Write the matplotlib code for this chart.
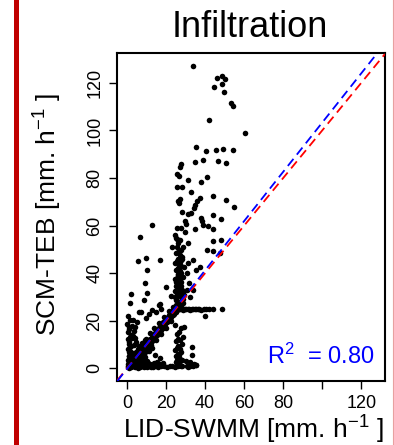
import matplotlib
matplotlib.use("Agg")
import matplotlib.pyplot as plt
from matplotlib.patches import Rectangle
from matplotlib.lines import Line2D

plt.rcParams['font.family'] = ['Liberation Sans', 'DejaVu Sans']
plt.rcParams['mathtext.fontset'] = 'custom'
plt.rcParams['mathtext.rm'] = 'Liberation Sans'
plt.rcParams['mathtext.it'] = 'Liberation Sans:italic'

# --- data (LID-SWMM vs SCM-TEB infiltration, mm/h) ---
# sparse high values
up_x = [33.6, 46.1, 48.9, 50.0, 48.9, 44.6, 49.5, 53.1, 54.5, 42.2, 60.4, 35.6, 40.6, 45.8, 49.2, 54.3,
        27.8, 27.1, 34.8, 38.8, 46.7, 50.9, 25.8, 26.6, 41.1, 31.0, 38.0, 25.4, 28.0, 32.7, 44.1, 37.4,
        27.1, 26.3, 26.6, 36.0, 50.9, 34.6, 34.3, 54.6, 28.3, 32.7, 31.0, 43.8, 48.2, 37.7, 38.2, 29.5,
        30.0, 12.7, 38.8, 41.4, 34.6, 25.8, 27.6, 43.8, 29.7, 24.4, 6.8, 25.1, 25.6, 27.0, 31.4, 43.8,
        48.2, 26.1, 23.3, 25.8, 28.7]
up_y = [127.1, 122.0, 122.7, 121.6, 119.6, 118.3, 116.1, 111.6, 110.2, 104.3, 98.7, 93.1, 91.3, 91.6, 92.1, 91.8,
        85.8, 84.5, 86.8, 87.5, 87.0, 86.3, 81.6, 80.8, 80.5, 79.1, 78.3, 76.3, 76.1, 74.1, 72.5, 71.7,
        71.1, 70.3, 69.3, 70.3, 70.8, 68.6, 67.5, 67.9, 65.8, 65.5, 64.7, 64.4, 62.9, 63.1, 62.0, 61.8,
        60.6, 60.3, 60.3, 59.9, 58.5, 59.1, 59.1, 58.4, 57.1, 56.1, 55.3, 54.9, 54.2, 53.9, 52.6, 53.6,
        53.9, 52.5, 50.8, 51.0, 50.8]

# middle values
mid_x = [5.4, 9.7, 17.0, 10.0, 9.2, 19.8, 2.0, 10.5, 22.4, 37.3, 35.6, 41.1, 44.3, 47.8, 31.4, 33.9,
         28.8, 30.8, 31.7, 30.8, 33.9, 28.8, 32.2]
mid_y = [45.2, 46.3, 45.5, 41.3, 35.7, 34.3, 31.2, 31.5, 30.5, 42.4, 41.3, 49.7, 49.4, 48.3, 44.4, 45.5,
         38.5, 39.9, 35.7, 32.9, 32.9, 32.2, 30.1]

# dense column near 25-29 mm/h
col_x = [24.5, 25.2, 26.0, 26.8, 27.5, 28.2, 24.8, 25.6, 26.4, 27.2, 28.0, 25.0, 25.9, 26.7, 27.6,
         24.6, 25.4, 26.2, 27.0, 27.9, 25.1, 26.0, 26.9, 27.8, 24.7, 25.5, 26.3, 27.3, 28.4, 25.3,
         26.1, 27.1, 28.1, 24.9, 25.8, 26.6, 27.4, 29.0, 25.2, 26.5, 27.7, 28.6, 24.4, 25.7, 26.8,
         27.5, 29.3, 26.2, 27.9, 28.8]
col_y = [25.5, 26.8, 27.2, 28.0, 26.3, 29.5, 30.2, 31.4, 32.0, 30.8, 33.1, 34.5, 35.2, 34.0, 36.3,
         37.4, 38.1, 39.2, 37.9, 40.0, 41.3, 42.0, 40.8, 43.1, 44.2, 45.0, 46.1, 44.8, 47.0, 48.3,
         49.1, 47.6, 46.0, 28.7, 29.9, 33.6, 38.8, 42.5, 36.1, 43.9, 45.7, 27.4, 32.6, 35.8, 41.6,
         49.8, 31.0, 39.5, 34.7, 29.1]

# plateau at ~25 mm/h
hl_x = [26.5, 27.2, 28.0, 28.7, 29.5, 30.2, 31.0, 31.7, 32.5, 33.2, 34.0, 34.7, 35.5, 36.2, 37.0,
        37.7, 39.2, 40.7, 42.0, 44.1, 48.7, 40.2]
hl_y = [24.8, 24.9, 24.8, 24.7, 24.8, 24.9, 24.8, 24.8, 24.7, 24.8, 24.8, 24.9, 24.8, 24.8, 24.8,
        24.7, 24.8, 24.8, 24.8, 24.8, 24.9, 22.0]

# band along the 1:1 line
band_x = [0.5, 1.0, 1.3, 1.8, 2.2, 2.5, 3.0, 3.2, 3.7, 4.0, 4.3, 4.8, 5.1, 5.4, 5.9, 6.2, 6.6, 7.0,
          7.3, 7.7, 8.1, 8.4, 8.9, 9.2, 9.6, 10.0, 10.3, 10.7, 11.1, 11.4, 11.9, 12.2, 12.6, 13.0,
          13.3, 13.7, 14.1, 14.5, 14.8, 15.2, 15.6, 16.0, 16.3, 16.7, 17.1, 17.5, 17.8, 18.2, 18.6,
          19.0, 19.3, 19.7, 20.1, 20.5, 20.8, 21.2, 21.6, 22.0, 22.3, 22.7, 23.1, 23.5, 23.8, 24.2,
          24.6, 25.0, 25.4, 25.8, 26.2, 26.7, 27.1, 27.5, 2.0, 3.5, 5.5, 7.5, 9.5, 12.0, 14.0, 16.5,
          19.0, 21.5, 23.5, 4.5, 6.5, 8.5, 10.5, 12.5, 15.0, 17.5, 20.0, 22.5]
band_y = [0.8, 0.3, 1.9, 1.2, 2.8, 1.6, 3.4, 2.1, 4.2, 3.1, 5.0, 3.9, 5.6, 4.4, 6.3, 5.1, 7.2, 6.0,
          8.0, 6.6, 8.7, 7.3, 9.5, 8.1, 10.3, 8.8, 11.0, 9.6, 11.8, 10.2, 12.5, 11.0, 13.3, 11.7,
          14.0, 12.5, 14.8, 13.2, 15.6, 14.0, 16.3, 14.7, 17.1, 15.5, 17.8, 16.2, 18.6, 17.0, 19.3,
          17.8, 20.1, 18.5, 20.8, 19.3, 21.6, 20.0, 22.3, 20.8, 23.0, 21.5, 23.8, 22.3, 24.5, 23.0,
          25.3, 23.8, 26.1, 24.5, 26.8, 25.2, 27.5, 26.0, 4.5, 6.0, 8.2, 10.0, 12.2, 14.8, 16.9, 19.0,
          21.4, 24.0, 26.0, 2.0, 3.8, 5.9, 7.5, 9.8, 12.0, 14.5, 17.0, 19.8]

# left column near 0 mm/h
lc_x = [0.3, 0.8, 1.2, 0.5, 1.6, 0.9, 0.4, 1.4, 2.0, 0.7, 1.1, 0.2, 1.8, 0.6, 1.3, 2.4, 0.9, 3.1,
        4.2, 1.5, 0.8, 1.5, 0.4, 1.0]
lc_y = [3.5, 5.2, 6.8, 8.1, 9.6, 11.0, 12.4, 13.1, 14.0, 15.5, 17.2, 18.6, 20.3, 22.0, 7.5, 12.9,
        10.2, 13.5, 12.8, 4.4, 2.6, 27.6, 1.8, 16.5]

# scattered low points above the line
sc_x = [8.8, 16.8, 7.1, 17.3, 14.8, 11.3, 3.2, 16.4, 2.5, 4.3, 6.1, 5.0, 9.8, 12.6, 3.8]
sc_y = [28.7, 27.0, 23.8, 24.9, 23.8, 22.8, 20.3, 26.6, 17.8, 17.5, 23.7, 19.4, 21.0, 24.5, 15.6]

# low values below the line
lo_x = [0.6, 1.4, 2.3, 3.1, 4.0, 4.9, 5.8, 6.7, 7.6, 8.5, 9.4, 10.3, 11.2, 12.1,
        0.9, 1.8, 2.7, 3.6, 4.5, 5.4, 6.3, 7.2, 8.1, 9.0, 9.9, 10.8, 11.7,
        2.0, 3.3, 4.6, 5.9, 7.4, 8.8, 10.1, 1.2, 2.6, 3.9, 5.2, 6.6, 8.0, 9.3,
        3.0, 4.4, 5.7, 7.1, 8.6, 2.1, 3.5, 4.8, 6.2, 7.7, 9.1,
        13.4, 14.7, 16.1, 17.6, 19.0, 20.4, 13.9, 15.3, 16.8, 18.3,
        21.9, 23.0, 30.5, 32.1, 33.8, 35.1, 14.5, 17.0, 11.5, 12.8]
lo_y = [0.5, 0.8, 0.4, 1.0, 0.6, 0.9, 0.3, 0.7, 1.1, 0.5, 0.8, 0.6, 0.9, 0.4,
        2.0, 2.4, 1.8, 2.6, 2.2, 1.9, 2.5, 2.1, 2.8, 2.3, 1.7, 2.4, 2.0,
        3.6, 3.9, 3.3, 4.1, 3.5, 3.8, 3.2, 5.0, 5.4, 4.8, 5.6, 5.1, 5.3, 4.7,
        6.5, 6.9, 6.3, 7.1, 6.6, 9.2, 10.0, 11.1, 9.6, 10.6, 11.8,
        0.7, 0.9, 0.6, 1.0, 0.8, 0.7, 2.2, 2.5, 1.9, 2.3,
        1.2, 1.0, 0.8, 1.2, 0.9, 1.4, 5.5, 4.2, 7.5, 8.4]

# low part of the 25-29 mm/h column
lcol_x = [24.6, 25.3, 26.1, 26.9, 27.7, 28.4, 24.9, 25.7, 26.5, 27.3, 28.1, 25.1, 26.0, 26.8,
          27.6, 24.7, 25.5, 26.3, 27.1, 28.0, 25.2, 26.2, 27.4, 28.6, 25.8, 26.6, 27.9, 24.8]
lcol_y = [0.6, 1.1, 0.8, 1.4, 0.9, 1.2, 2.5, 3.4, 2.9, 4.1, 3.6, 5.2, 6.0, 5.6,
          6.8, 7.9, 8.6, 9.3, 8.2, 10.1, 11.4, 12.2, 11.8, 13.0, 14.6, 15.3, 16.9, 18.2]

iso_x = [33.2, 33.2, 29.0, 31.5, 34.5, 35.1, 30.3, 32.4]
iso_y = [9.1, 5.6, 17.5, 0.7, 2.0, 1.4, 3.3, 2.6]

fit_slope = 1.035
fit_intercept = -0.2
r2_text = "R$^2$  = 0.80"

x_ticks = [0, 20, 40, 60, 80, 100, 120]
x_tick_labels = ['0', '20', '40', '60', '80', '', '120']
y_ticks = [0, 20, 40, 60, 80, 100, 120]

xs = up_x + mid_x + col_x + hl_x + band_x + lc_x + sc_x + lo_x + lcol_x + iso_x
ys = up_y + mid_y + col_y + hl_y + band_y + lc_y + sc_y + lo_y + lcol_y + iso_y

fig = plt.figure(figsize=(3.94, 4.45), dpi=100)
ax = fig.add_axes([0.297, 0.1438, 0.680, 0.737])

ax.scatter(xs, ys, s=16, c='black', linewidths=0, zorder=2)
ax.axline((0, 0), slope=1, color='red', lw=1.3, dashes=(5, 3), zorder=3)
ax.axline((0, fit_intercept), slope=fit_slope, color='blue', lw=1.3, dashes=(5, 3), zorder=3)

ax.set_xlim(-5.1, 132.1)
ax.set_ylim(-5.3, 132.5)
ax.set_xticks(x_ticks)
ax.set_xticklabels(x_tick_labels)
ax.set_yticks(y_ticks)
ax.tick_params(direction='out', length=6, width=1, labelsize=13, pad=4)
ax.tick_params(axis='y', labelrotation=90)
for lab in ax.get_yticklabels():
    lab.set_va('center')
for sp in ax.spines.values():
    sp.set_linewidth(1.5)

ax.text(71.8, 1.8, r2_text, color='blue', fontsize=17, ha='left', va='baseline')

fig.text(0.635, 0.917, 'Infiltration', fontsize=26, ha='center', va='baseline')
fig.text(0.643, 0.0135, 'LID-SWMM [mm. h$^{-1}$ ]', fontsize=19, ha='center', va='baseline')
fig.text(0.122, 0.519, 'SCM-TEB [mm. h$^{-1}$ ]', fontsize=19, ha='center', va='center', rotation=90)

# slide borders
fig.add_artist(Rectangle((14 / 394, 0), 4.5 / 394, 1, transform=fig.transFigure,
                         color='#C00000', lw=0))
fig.add_artist(Line2D([392.7 / 394, 392.7 / 394], [0, 1], transform=fig.transFigure,
                      color='#E8A0A0', lw=0.8))

fig.savefig('out.png', dpi=100)
